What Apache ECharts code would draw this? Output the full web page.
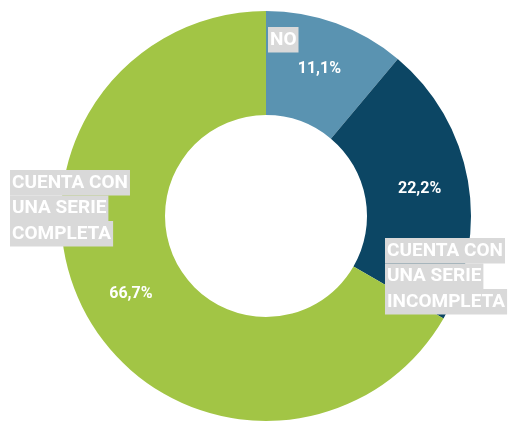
<!DOCTYPE html>
<html>
<head>
<meta charset="utf-8">
<script src="https://cdn.jsdelivr.net/npm/echarts@6/dist/echarts.min.js"></script>
<style>
  html, body { margin: 0; padding: 0; background: #fff; }
  #chart { width: 510px; height: 427px; }
</style>
</head>
<body>
<div id="chart"></div>
<script>
// categorias y valores
const categories = ['NO', 'CUENTA CON\nUNA SERIE\nINCOMPLETA', 'CUENTA CON\nUNA SERIE\nCOMPLETA'];
const values = [1, 2, 6];
const colors = ['#5A93B1', '#0C4664', '#A2C545'];

// donde van las etiquetas de categoria (esquina sup. izq.)
const labelPos = [[268, 27], [385, 238], [10, 170]];

const FONT = 'Roboto, sans-serif';

let dom = document.getElementById('chart');
let chart = echarts.init(dom);

const pieData = categories.map((name, i) => ({
  name: name,
  value: values[i],
  itemStyle: { color: colors[i] }
}));

const option = {
  animation: false,
  series: [
    {
      type: 'pie',
      center: [266, 216],
      radius: [101, 205],
      startAngle: 90,
      avoidLabelOverlap: false,
      silent: true,
      data: pieData,
      label: {
        position: 'inside',
        color: '#fff',
        fontFamily: FONT,
        fontWeight: 'bold',
        fontSize: 16,
        formatter: p => p.percent.toFixed(1).replace('.', ',') + '%'
      },
      labelLine: { show: false }
    },
    {
      // solo etiquetas de categoria
      type: 'pie',
      center: [266, 216],
      radius: [101, 205],
      startAngle: 90,
      avoidLabelOverlap: false,
      silent: true,
      z: 3,
      data: pieData.map(d => ({ name: d.name, value: d.value })),
      itemStyle: { color: 'rgba(0,0,0,0)' },
      label: {
        position: 'outside',
        formatter: p => p.name.split('\n').map(s => '{b|' + s + '}').join('\n'),
        rich: {
          b: {
            color: '#fff',
            fontFamily: FONT,
            fontWeight: 'bold',
            fontSize: 19,
            lineHeight: 25.5,
            height: 25.5,
            backgroundColor: '#D9D9D9',
            padding: [0, 2]
          }
        }
      },
      labelLine: { show: false },
      labelLayout: p => ({
        x: labelPos[p.dataIndex][0],
        y: labelPos[p.dataIndex][1],
        align: 'left',
        verticalAlign: 'top'
      })
    }
  ]
};

chart.setOption(option, true);
window.addEventListener('resize', () => {
  chart.resize();
});
</script>
</body>
</html>
